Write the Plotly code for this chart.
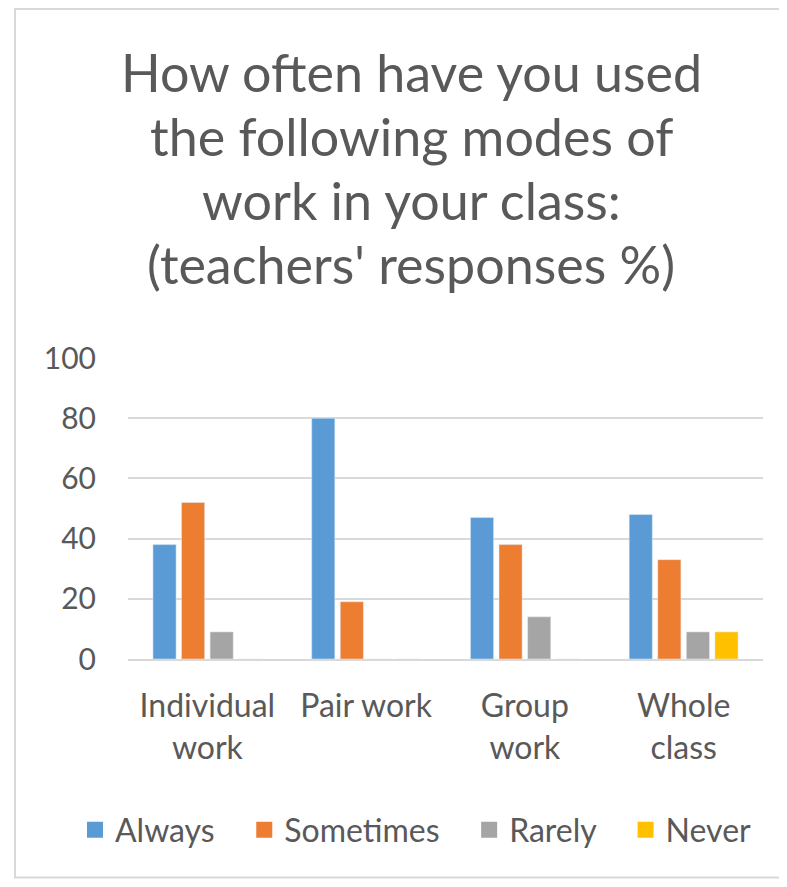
import plotly.graph_objects as go

categories = ["Individual<br>work", "Pair work", "Group<br>work", "Whole<br>class"]
always = [38, 80, 47, 48]
sometimes = [52, 19, 38, 33]
rarely = [9, 0, 14, 9]
never = [0, 0, 0, 9]
series_names = ["Always", "Sometimes", "Rarely", "Never"]
series_colors = ["#5B9BD5", "#ED7D31", "#A5A5A5", "#FFC000"]
y_ticks = [0, 20, 40, 60, 80, 100]
title_lines = [
    "How often have you used",
    "the following modes of",
    "work in your class:",
    "(teachers' responses %)",
]

# page body has an 8px margin; figure is sized so nothing overflows
OFF = 8
W, H = 787 - 2 * OFF, 887 - 2 * OFF
PLOT_L, PLOT_R, PLOT_T, PLOT_B = 128, 763, 358, 659  # page pixel coords of plot area
L = PLOT_L - OFF
R = W - (PLOT_R - OFF)
T = PLOT_T - OFF
B = H - (PLOT_B - OFF)
PW, PH = W - L - R, H - T - B
FONT = "Lato"
TXT = "#595959"


def px_x(x):
    return (x - PLOT_L) / PW


def px_y(y):
    return (PLOT_B - y) / PH


fig = go.Figure()
for name, vals, col in zip(series_names, [always, sometimes, rarely, never], series_colors):
    fig.add_trace(go.Bar(x=categories, y=vals, name=name, marker_color=col,
                         showlegend=False))
for name, col in zip(series_names, series_colors):
    fig.add_trace(go.Scatter(x=[None], y=[None], mode="markers", name=name + "\u00a0\u00a0\u00a0",
                             marker=dict(symbol="square", size=20, color=col)))

annotations = []
for i, line in enumerate(title_lines):
    annotations.append(dict(text=line, x=px_x(411), y=px_y(72 + 64 * i), xref="paper", yref="paper",
                            xanchor="center", yanchor="middle", showarrow=False,
                            font=dict(family=FONT, size=52, color=TXT)))

# outer frame: left, top and bottom edges (right edge lies outside the picture)
fx0, fx1 = px_x(15), px_x(830)
fy_top, fy_bot = px_y(OFF + 1), px_y(H + OFF - 1.5)
frame_path = f"M {fx1},{fy_top} L {fx0},{fy_top} L {fx0},{fy_bot} L {fx1},{fy_bot}"

fig.update_layout(
    width=W, height=H,
    margin=dict(l=L, r=R, t=T, b=B, autoexpand=False),
    paper_bgcolor="white", plot_bgcolor="white",
    barmode="group", bargap=0.28, bargroupgap=0.19,
    font=dict(family=FONT, color=TXT),
    annotations=annotations,
    showlegend=True,
    legend=dict(orientation="h", x=px_x(75), xanchor="left", y=px_y(830), yanchor="middle",
                font=dict(family=FONT, size=32, color=TXT), itemclick=False,
                bgcolor="rgba(0,0,0,0)"),
    shapes=[dict(type="path", xref="paper", yref="paper", path=frame_path,
                 line=dict(color="#D9D9D9", width=2), layer="below")],
)
fig.update_yaxes(range=[0, 100], tickvals=y_ticks, showgrid=True, gridcolor="#D9D9D9", gridwidth=2,
                 zeroline=False, showline=False, ticks="",
                 tickfont=dict(family=FONT, size=30, color=TXT), ticklabelstandoff=31, fixedrange=True)
fig.update_xaxes(showline=True, linecolor="#D9D9D9", linewidth=2, ticks="", showgrid=False,
                 tickfont=dict(family=FONT, size=32, color=TXT), ticklabelstandoff=18, fixedrange=True)

fig.write_html("out.html", config={"displayModeBar": False})
